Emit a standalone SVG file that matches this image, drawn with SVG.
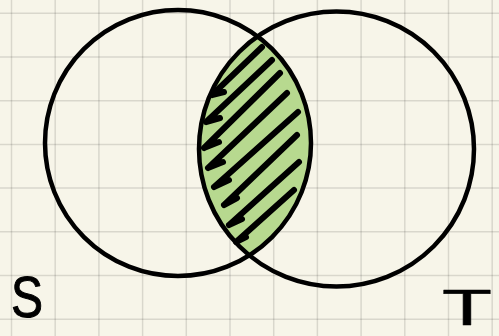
<svg xmlns="http://www.w3.org/2000/svg" width="499" height="336" viewBox="0 0 499 336">
  <defs>
    <style>
      .grid line { stroke: #000; stroke-opacity: 0.12; stroke-width: 1.5; }
      .outline { fill: none; stroke: #000; stroke-width: 4.5; }
      .hatch { fill: none; stroke: #000; stroke-width: 6; stroke-linecap: round; stroke-linejoin: round; }
      .label { font-family: "Liberation Sans", Arial, sans-serif; fill: #000; stroke: #000; stroke-linejoin: round; }
    </style>
    <clipPath id="clipS">
      <ellipse cx="178" cy="143" rx="133" ry="133"/>
    </clipPath>
  </defs>
  <rect width="499" height="336" fill="#f7f5e9"/>
  <g class="grid">
    <line x1="11.5" y1="0" x2="11.5" y2="336"/>
    <line x1="55.2" y1="0" x2="55.2" y2="336"/>
    <line x1="98.9" y1="0" x2="98.9" y2="336"/>
    <line x1="142.6" y1="0" x2="142.6" y2="336"/>
    <line x1="186.3" y1="0" x2="186.3" y2="336"/>
    <line x1="230" y1="0" x2="230" y2="336"/>
    <line x1="273.7" y1="0" x2="273.7" y2="336"/>
    <line x1="317.4" y1="0" x2="317.4" y2="336"/>
    <line x1="361.1" y1="0" x2="361.1" y2="336"/>
    <line x1="404.8" y1="0" x2="404.8" y2="336"/>
    <line x1="448.5" y1="0" x2="448.5" y2="336"/>
    <line x1="492.2" y1="0" x2="492.2" y2="336"/>
    <line x1="0" y1="13.3" x2="499" y2="13.3"/>
    <line x1="0" y1="57" x2="499" y2="57"/>
    <line x1="0" y1="100.7" x2="499" y2="100.7"/>
    <line x1="0" y1="144.4" x2="499" y2="144.4"/>
    <line x1="0" y1="188.1" x2="499" y2="188.1"/>
    <line x1="0" y1="231.8" x2="499" y2="231.8"/>
    <line x1="0" y1="275.5" x2="499" y2="275.5"/>
    <line x1="0" y1="319.2" x2="499" y2="319.2"/>
  </g>
  <g id="intersection">
    <ellipse cx="336.5" cy="149" rx="137.5" ry="137.5" fill="#b7d98f" clip-path="url(#clipS)"/>
    <path class="hatch" d="M212,95 L262,47 M212,95 l12,-3"/>
    <path class="hatch" d="M206,122 L272,60 M206,122 l14,-4"/>
    <path class="hatch" d="M204,148 L280,73 M204,148 l15,-6"/>
    <path class="hatch" d="M208,168 L287,93 M208,168 l15,-6"/>
    <path class="hatch" d="M214,187 L298,112 M214,187 l15,-7"/>
    <path class="hatch" d="M224,205 L297,135 M224,205 l13,-7"/>
    <path class="hatch" d="M229,225 L299,162 M229,225 l13,-6"/>
    <path class="hatch" d="M236,242 L294,190 M236,242 l10,-5"/>
  </g>
  <g id="set-S">
    <ellipse class="outline" cx="178" cy="143" rx="133" ry="133"/>
    <text class="label" x="11" y="317" font-size="58" stroke-width="1" textLength="32" lengthAdjust="spacingAndGlyphs">S</text>
  </g>
  <g id="set-T">
    <ellipse class="outline" cx="336.5" cy="149" rx="137.5" ry="137.5"/>
    <text class="label" x="442" y="325" font-size="50" stroke-width="0.5" textLength="50" lengthAdjust="spacingAndGlyphs">T</text>
  </g>
</svg>
